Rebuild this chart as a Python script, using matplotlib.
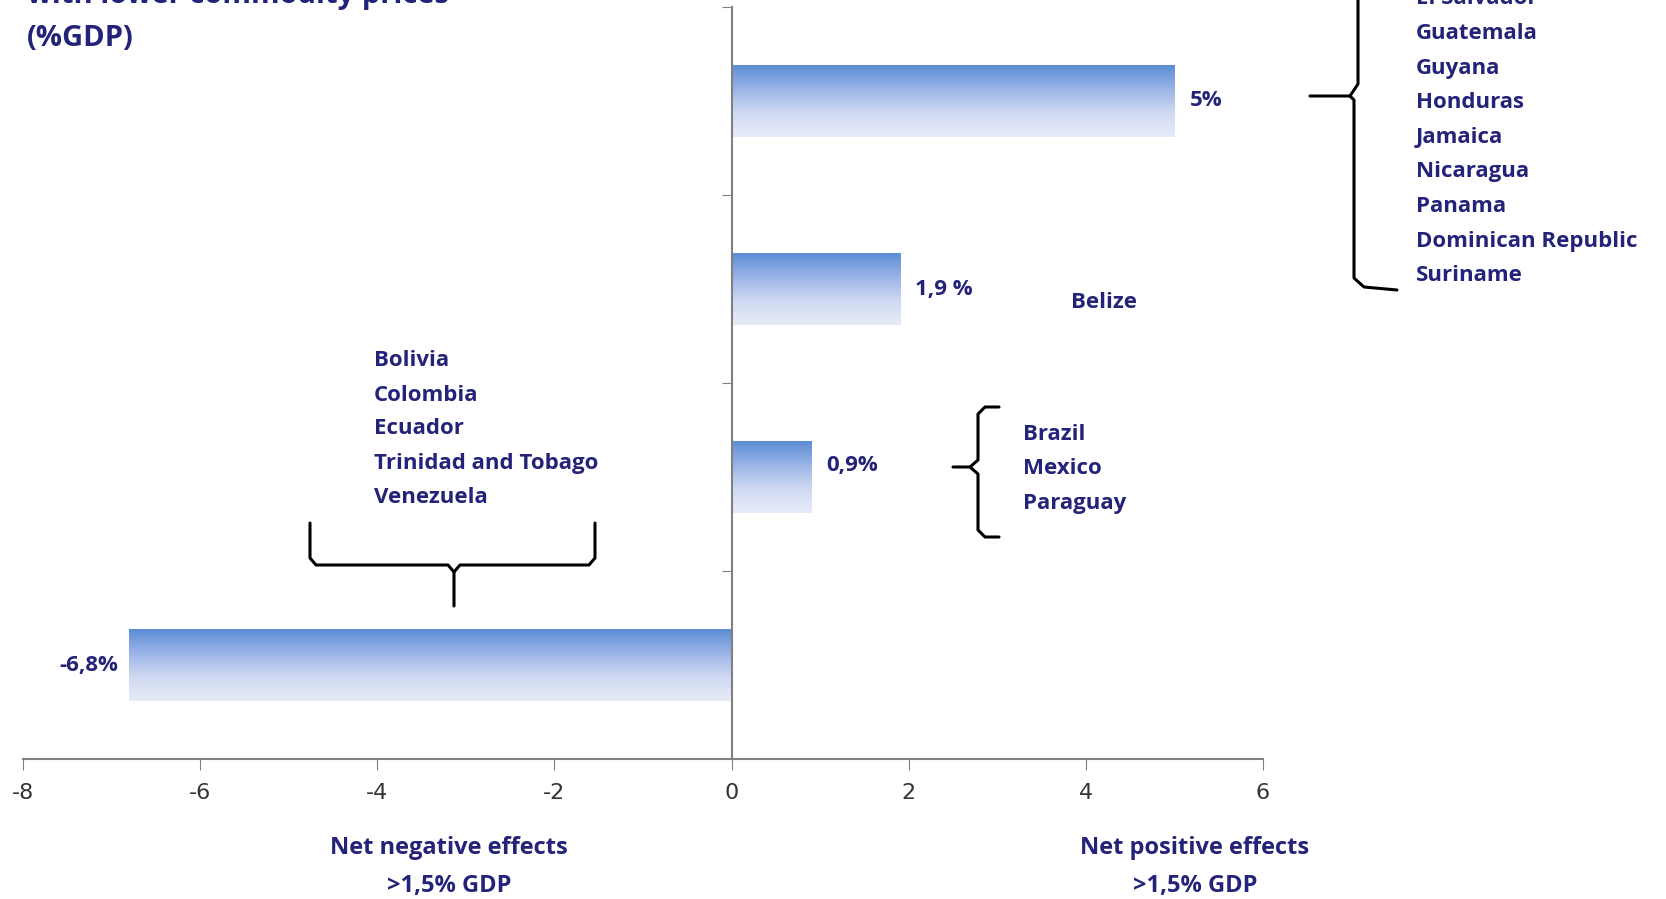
import numpy as np
import matplotlib.pyplot as plt
from matplotlib.colors import LinearSegmentedColormap
from matplotlib.path import Path
from matplotlib.patches import PathPatch

# Data
groups = ['Net negative', 'Small positive', 'Belize', 'Net positive']
values = [-6.8, 0.9, 1.9, 5.0]
value_labels = ['-6,8%', '0,9%', '1,9 %', '5%']
neg_countries = ['Bolivia', 'Colombia', 'Ecuador', 'Trinidad and Tobago', 'Venezuela']
mid_countries = ['Brazil', 'Mexico', 'Paraguay']
pos_countries = ['El Salvador', 'Guatemala', 'Guyana', 'Honduras', 'Jamaica',
                 'Nicaragua', 'Panama', 'Dominican Republic', 'Suriname']
xticks = [-8, -6, -4, -2, 0, 2, 4, 6]

W, H = 1666, 899
navy = '#23237a'
fig = plt.figure(figsize=(W / 100, H / 100), dpi=100)
ax = fig.add_axes([23 / W, 1 - 759 / H, (1263 - 23) / W, (759 - 7) / H])

def fx(x):
    return x / W

def fy(y):
    return 1 - y / H

# bars with vertical gradient
cmap = LinearSegmentedColormap.from_list('g', ['#5a8bd4', '#98b3e6', '#d0d9f2', '#e8ecf8'])
grad = np.linspace(0, 1, 256).reshape(-1, 1)
pos = np.arange(len(values))
bh = 0.385
bars = ax.barh(pos, values, height=bh, color='none', edgecolor='none')
for b in bars:
    x0, y0 = b.get_x(), b.get_y()
    w, h = b.get_width(), b.get_height()
    im = ax.imshow(grad, extent=[x0, x0 + w, y0, y0 + h], origin='upper',
                   aspect='auto', cmap=cmap, zorder=2)
    im.set_clip_path(b)

ax.set_xlim(-8, 6)
ax.set_ylim(-0.5, 3.5)
ax.set_xticks(xticks)
ax.set_xticklabels([str(t) for t in xticks], fontsize=16, color='#333333',
                   family=['DejaVu Sans Condensed', 'DejaVu Sans'])
ax.set_yticks([0.5, 1.5, 2.5, 3.5])
ax.set_yticklabels([])
for s in ['top', 'right']:
    ax.spines[s].set_visible(False)
ax.spines['left'].set_position(('data', 0))
ax.spines['left'].set_color('#808080')
ax.spines['bottom'].set_color('#808080')
ax.spines['left'].set_linewidth(1.5)
ax.spines['bottom'].set_linewidth(1.5)
ax.tick_params(axis='x', direction='out', length=8, color='#808080', pad=9)
ax.tick_params(axis='y', direction='out', length=7, color='#808080')

tf = dict(family=['Open Sans', 'DejaVu Sans'], fontweight='bold', color=navy)

# value labels
ax.text(-6.8 - 0.12, 0, value_labels[0], ha='right', va='center', fontsize=16, **tf)
ax.text(0.9 + 0.17, 1.06, value_labels[1], ha='left', va='center', fontsize=16, **tf)
ax.text(1.9 + 0.17, 2, value_labels[2], ha='left', va='center', fontsize=16, **tf)
ax.text(5.0 + 0.17, 3, value_labels[3], ha='left', va='center', fontsize=16, **tf)

# country lists
for i, c in enumerate(neg_countries):
    fig.text(fx(374), fy(361 + i * 34), c, va='center', fontsize=16, **tf)
for i, c in enumerate(mid_countries):
    fig.text(fx(1023), fy(434 + i * 35), c, va='center', fontsize=16, **tf)
fig.text(fx(1071), fy(302), 'Belize', va='center', fontsize=16, **tf)
for i, c in enumerate(pos_countries):
    fig.text(fx(1416), fy(-1 + i * 34.6), c, va='center', fontsize=16, **tf)

# title (top line cut off)
fig.text(fx(27), fy(-4), 'with lower commodity prices', va='center', fontsize=21, **tf)
fig.text(fx(27), fy(38), '(%GDP)', va='center', fontsize=21, **tf)

# bottom labels
for xc, lab in [(449, 'Net negative effects'), (1195, 'Net positive effects')]:
    fig.text(fx(xc), fy(848), lab, ha='center', va='center', fontsize=17, **tf)
    fig.text(fx(xc), fy(886), '>1,5% GDP', ha='center', va='center', fontsize=17, **tf)

def brace(pts):
    # pts in pixel coords, drawn as a path on the figure
    verts = [(fx(x), fy(y)) for x, y in pts]
    codes = [Path.MOVETO] + [Path.LINETO] * (len(verts) - 1)
    fig.patches.append(PathPatch(Path(verts, codes), transform=fig.transFigure,
                                 fill=False, lw=2.2, color='black',
                                 joinstyle='round', capstyle='round'))

# bracket under the negative list (points down)
brace([(310, 523), (310, 558), (316, 565), (448, 565), (454, 572), (454, 606)])
brace([(454, 572), (460, 565), (589, 565), (595, 558), (595, 523)])
# brace left of Brazil group (points left)
brace([(999, 407), (985, 407), (978, 414), (978, 460), (970, 467), (953, 467)])
brace([(970, 467), (978, 474), (978, 530), (985, 537), (999, 537)])
# big brace on the right (points left)
brace([(1358, -5), (1358, 84), (1350, 96), (1310, 96)])
brace([(1350, 96), (1354, 100), (1354, 278), (1364, 287), (1397, 290)])

fig.savefig('out.png', dpi=100, facecolor='white')
